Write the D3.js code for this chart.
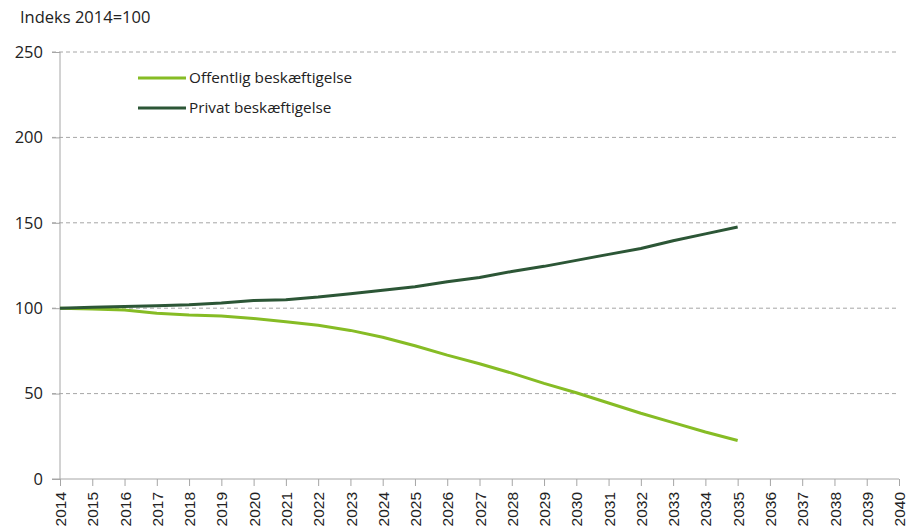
<!DOCTYPE html>
<html>
<head>
<meta charset="utf-8">
<script src="https://cdn.jsdelivr.net/npm/d3@7"></script>
<style>
  body { margin: 0; background: #fff; }
  svg { display: block; }
</style>
</head>
<body>
<svg width="913" height="527"></svg>
<script>
// data
const years = d3.range(2014, 2041)
const dataYears = d3.range(2014, 2036)
const offentlig = [100, 99.5, 99, 97, 96, 95.5, 94, 92, 90, 87, 83, 78, 72.5, 67.5, 62, 56, 50.5, 44.5, 38.5, 33, 27.5, 22.5]
const privat = [100, 100.5, 101, 101.5, 102, 103, 104.5, 105, 106.5, 108.5, 110.5, 112.5, 115.5, 118, 121.5, 124.5, 128, 131.5, 135, 139.5, 143.5, 147.5]
const yTicks = [0, 50, 100, 150, 200, 250]
const seriesNames = ["Offentlig beskæftigelse", "Privat beskæftigelse"]
const colors = ["#86bc25", "#2c5636"]

const margin = {top: 52, right: 14, bottom: 48, left: 60}
const width = 913, height = 527

const svg = d3.select("svg")

const x = d3.scaleLinear().domain([2014, 2040]).range([margin.left, 899])
const y = d3.scaleLinear().domain([0, 250]).range([479, margin.top])

// title
svg.append("text")
    .attr("x", 20).attr("y", 23)
    .style("font-family", "Open Sans")
    .style("font-size", "16.5px")
    .attr("fill", "#222")
    .text("Indeks 2014=100")

// gridlines
svg.append("g")
    .selectAll("line")
    .data(yTicks.filter(d => d > 0))
    .enter()
    .append("line")
    .attr("x1", 52).attr("x2", 899)
    .attr("y1", d => y(d)).attr("y2", d => y(d))
    .attr("stroke", "#a6a6a6")
    .attr("stroke-dasharray", "4,3")
    .attr("stroke-width", 1)

// y axis
const yAxis = svg.append("g")
    .attr("transform", `translate(${margin.left},0)`)
    .call(d3.axisLeft(y).tickValues(yTicks).tickSize(8).tickPadding(9))
yAxis.select(".domain").attr("stroke", "#a6a6a6").attr("d", `M0,${y(250)}V${y(0)}`)
yAxis.selectAll(".tick line").attr("stroke", "#a6a6a6")
yAxis.selectAll("text")
    .style("font-family", "Open Sans")
    .style("font-size", "16.5px")
    .attr("fill", "#222")

// x axis
const xAxis = svg.append("g")
    .attr("transform", `translate(0,${y(0)})`)
    .call(d3.axisBottom(x).tickValues(years).tickFormat(d3.format("d")).tickSize(7).tickSizeOuter(0))
xAxis.select(".domain").attr("stroke", "#a6a6a6").attr("d", `M52,0H${x(2040)}`)
xAxis.selectAll(".tick line").attr("stroke", "#a6a6a6")
xAxis.selectAll("text")
    .attr("transform", "rotate(-90)")
    .attr("x", -13).attr("y", 0).attr("dy", "0.36em")
    .attr("text-anchor", "end")
    .style("font-family", "Liberation Sans")
    .style("font-size", "15.5px")
    .attr("fill", "#222")

// lines
const line = d3.line()
    .x((d, i) => x(dataYears[i]))
    .y(d => y(d))

;[offentlig, privat].forEach(function(vals, i){
    svg.append("path")
        .datum(vals)
        .attr("fill", "none")
        .attr("stroke", colors[i])
        .attr("stroke-width", 3)
        .attr("stroke-linejoin", "round")
        .attr("d", line)
})

// legend
const legend = svg.append("g")
seriesNames.forEach(function(name, i){
    const ly = 78 + i * 30
    legend.append("line")
        .attr("x1", 138).attr("x2", 186)
        .attr("y1", ly).attr("y2", ly)
        .attr("stroke", colors[i])
        .attr("stroke-width", 3)
    legend.append("text")
        .attr("x", 189).attr("y", ly).attr("dy", "0.35em")
        .style("font-family", "Open Sans")
        .style("font-size", "15.3px")
        .attr("fill", "#222")
        .text(name)
})
</script>
</body>
</html>
